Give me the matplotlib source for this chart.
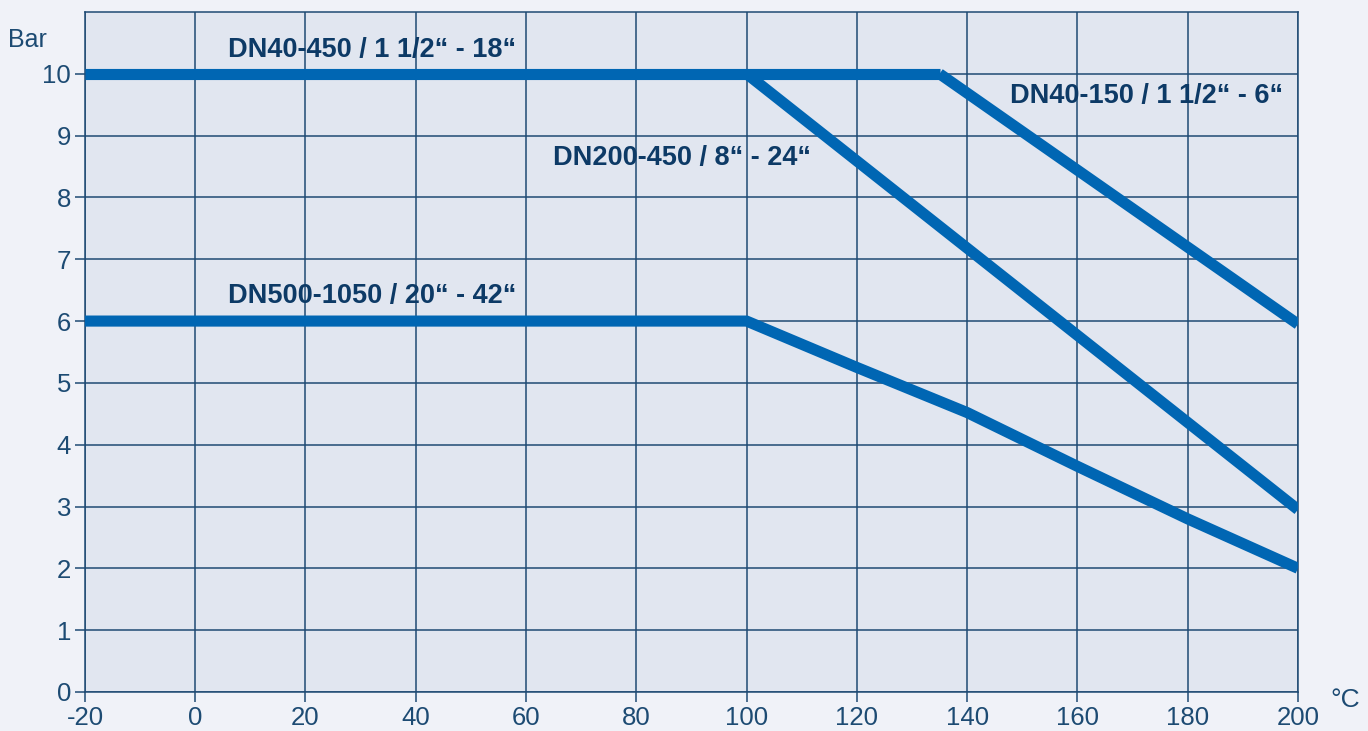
import numpy as np
import matplotlib.pyplot as plt

plt.rcParams['font.family'] = ['Liberation Sans', 'DejaVu Sans']
plt.rcParams['axes.unicode_minus'] = False

# data
x_dn40_450 = [-20, 100, 135]
y_dn40_450 = [10, 10, 10]

x_dn40_150 = [135, 200]
y_dn40_150 = [10, 5.95]

x_dn200_450 = [100, 200]
y_dn200_450 = [10, 2.95]

x_dn500_1050 = [-20, 100, 120, 140, 160, 180, 200]
y_dn500_1050 = [6, 6, 5.25, 4.52, 3.65, 2.8, 2.0]

labels = ["DN40-450 / 1 1/2“ - 18“", "DN40-150 / 1 1/2“ - 6“",
          "DN200-450 / 8“ - 24“", "DN500-1050 / 20“ - 42“"]
label_pos = [(5.9, 10.39), (147.7, 9.64), (64.9, 8.64), (5.9, 6.41)]

xticks = list(range(-20, 201, 20))
yticks = list(range(0, 11))

line_col = "#0066b3"
grid_col = "#1f4a73"
text_col = "#1d4b73"
lab_col = "#0d3a66"

fig = plt.figure(figsize=(13.68, 7.31), dpi=100)
fig.patch.set_facecolor("#f0f2f8")
ax = fig.add_axes([0.0621, 0.0534, 0.8867, 0.9302])
ax.set_facecolor("#e1e6f0")

for xs, ys in [(x_dn40_450, y_dn40_450), (x_dn40_150, y_dn40_150),
               (x_dn200_450, y_dn200_450), (x_dn500_1050, y_dn500_1050)]:
	ax.plot(xs, ys, color=line_col, lw=8, solid_capstyle="butt",
	        solid_joinstyle="miter", zorder=3)

for txt, (tx, ty) in zip(labels, label_pos):
	ax.text(tx, ty, txt, fontsize=19.5, fontweight="bold", color=lab_col,
	        ha="left", va="center", zorder=4)

ax.set_xlim(-20, 200)
ax.set_ylim(0, 11)
ax.set_xticks(xticks)
ax.set_yticks(yticks)
ax.grid(True, color=grid_col, lw=1.1)
ax.set_axisbelow(True)
for s in ax.spines.values():
	s.set_color(grid_col)
	s.set_linewidth(1.1)
ax.tick_params(axis="both", colors=grid_col, labelcolor=text_col,
               labelsize=18.5, length=7, width=1.1, pad=3)

fig.text(8/1368, 1-40/731, "Bar", fontsize=18, color=text_col, ha="left", va="center")
fig.text(1330/1368, 1-700/731, "°C", fontsize=19, color=text_col, ha="left", va="center")

plt.savefig("out.png", dpi=100, facecolor=fig.get_facecolor())
